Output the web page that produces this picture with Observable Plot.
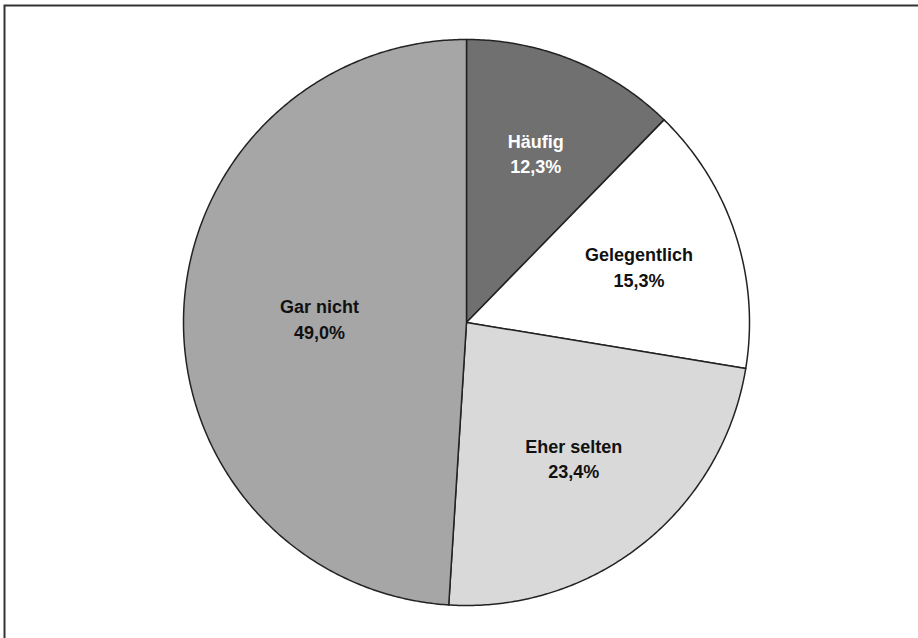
<!DOCTYPE html>
<html>
<head>
<meta charset="utf-8">
<script src="https://cdn.jsdelivr.net/npm/d3@7"></script>
<script src="https://cdn.jsdelivr.net/npm/@observablehq/plot@0.6"></script>
<style>
  html, body { margin: 0; padding: 0; background: #fff; overflow: hidden; }
  #chart svg { display: block; overflow: hidden; }
</style>
</head>
<body>
<div id="chart"></div>
<script>
// Answer categories, clockwise from twelve o'clock, with their shares in percent
const categories = ["Häufig", "Gelegentlich", "Eher selten", "Gar nicht"];
const shares = [12.3, 15.3, 23.4, 49.0];
const sliceColors = ["#707070", "#ffffff", "#d9d9d9", "#a6a6a6"];
const labelColors = ["#ffffff", "#111111", "#111111", "#111111"];

const W = 918, H = 638;
const cx = 466, cy = 322, R = 283;   // pie centre and radius in pixels

const pie = d3.pie().sort(null).value(d => d)(shares);

// Polygon vertices for each slice, in unit-circle coordinates
const slicePoints = [];
pie.forEach((p, i) => {
  const steps = Math.max(2, Math.ceil((p.endAngle - p.startAngle) / (Math.PI / 360)));
  slicePoints.push({cat: categories[i], x: 0, y: 0});
  for (let k = 0; k <= steps; k++) {
    const a = p.startAngle + (p.endAngle - p.startAngle) * k / steps;
    slicePoints.push({cat: categories[i], x: Math.sin(a), y: Math.cos(a)});
  }
});

// Label anchor: sector centroid, kept away from the centre for the wide slice
const labels = pie.map((p, i) => {
  const half = (p.endAngle - p.startAngle) / 2;
  const mid = (p.startAngle + p.endAngle) / 2;
  const d = Math.max(2 * Math.sin(half) / (3 * half), 0.52);
  const pct = shares[i].toFixed(1).replace(".", ",") + "%";
  return {cat: categories[i], x: d * Math.sin(mid), y: d * Math.cos(mid),
          text: categories[i] + "\n" + pct, color: labelColors[i]};
});

const chart = Plot.plot({
  width: W,
  height: H,
  // the frame's right and bottom edges fall outside the drawing, leaving a top and left border
  marginTop: 5,
  marginLeft: 4,
  marginRight: -6,
  marginBottom: -6,
  x: {domain: [-1, 1], range: [cx - R, cx + R], axis: null},
  y: {domain: [-1, 1], range: [cy + R, cy - R], axis: null},
  color: {domain: categories, range: sliceColors},
  style: {fontFamily: "Liberation Sans, Arial, Helvetica, sans-serif", overflow: "hidden"},
  marks: [
    Plot.frame({stroke: "#333", strokeWidth: 2}),
    Plot.line(slicePoints, {
      x: "x", y: "y", z: "cat",
      fill: "cat",
      stroke: "#222",
      strokeWidth: 1.5,
      strokeLinejoin: "round",
      curve: "linear-closed"
    }),
    Plot.text(labels, {
      x: "x", y: "y", text: "text",
      fill: d => d.color,
      fontSize: 18,
      fontWeight: "bold",
      lineHeight: 1.4,
      textAnchor: "middle"
    })
  ]
});

document.getElementById("chart").appendChild(chart);
</script>
</body>
</html>
